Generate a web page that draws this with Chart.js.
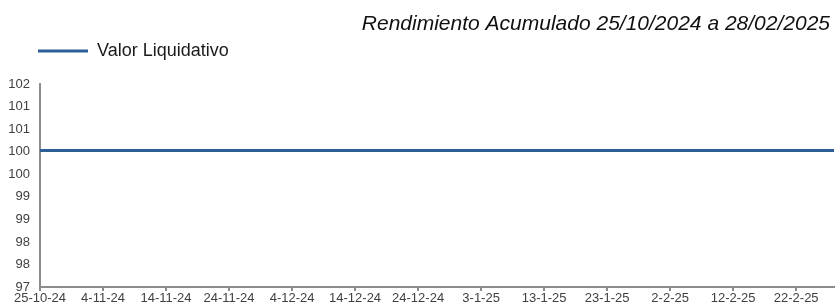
<!DOCTYPE html>
<html lang="es">
<head>
<meta charset="utf-8">
<title>Rendimiento Acumulado</title>
<script src="https://cdn.jsdelivr.net/npm/chart.js@4.4.1/dist/chart.umd.min.js"></script>
<style>
    html, body { margin: 0; padding: 0; background: #fff; }
    .chart-box { position: relative; width: 835px; height: 307px; }
</style>
</head>
<body>
<div class="chart-box"><canvas id="navChart"></canvas></div>
<script>
// Periodo: 25/10/2024 - 28/02/2025 (una categoría por día)
const startDate = Date.UTC(2024, 9, 25);
const endDate = Date.UTC(2025, 1, 28);

const categories = [];
for (let t = startDate; t <= endDate; t += 86400000) {
    const d = new Date(t);
    categories.push(d.getUTCDate() + "-" + (d.getUTCMonth() + 1) + "-" + String(d.getUTCFullYear()).slice(2));
}

// Valor liquidativo (plano durante todo el periodo)
const valorLiquidativo = [
    100.36, 100.36, 100.36, 100.36, 100.36, 100.36, 100.36, 100.36, 100.36, 100.36,
    100.36, 100.36, 100.36, 100.36, 100.36, 100.36, 100.36, 100.36, 100.36, 100.36,
    100.36, 100.36, 100.36, 100.36, 100.36, 100.36, 100.36, 100.36, 100.36, 100.36,
    100.36, 100.36, 100.36, 100.36, 100.36, 100.36, 100.36, 100.36, 100.36, 100.36,
    100.36, 100.36, 100.36, 100.36, 100.36, 100.36, 100.36, 100.36, 100.36, 100.36,
    100.36, 100.36, 100.36, 100.36, 100.36, 100.36, 100.36, 100.36, 100.36, 100.36,
    100.36, 100.36, 100.36, 100.36, 100.36, 100.36, 100.36, 100.36, 100.36, 100.36,
    100.36, 100.36, 100.36, 100.36, 100.36, 100.36, 100.36, 100.36, 100.36, 100.36,
    100.36, 100.36, 100.36, 100.36, 100.36, 100.36, 100.36, 100.36, 100.36, 100.36,
    100.36, 100.36, 100.36, 100.36, 100.36, 100.36, 100.36, 100.36, 100.36, 100.36,
    100.36, 100.36, 100.36, 100.36, 100.36, 100.36, 100.36, 100.36, 100.36, 100.36,
    100.36, 100.36, 100.36, 100.36, 100.36, 100.36, 100.36, 100.36, 100.36, 100.36,
    100.36, 100.36, 100.36, 100.36, 100.36, 100.36, 100.36
];

// Eje Y: 10 marcas entre 97 y 102, etiquetas redondeadas
const yTickValues = [97, 97.56, 98.11, 98.67, 99.22, 99.78, 100.33, 100.89, 101.44, 102];
const yTickLabels = ["97", "98", "98", "99", "99", "100", "100", "101", "101", "102"];
const xTickEvery = 10;

const FONT = "'Liberation Sans', Arial, sans-serif";
const AXIS_GREY = "#8c8c8c";

// extra room under the legend, legend moved over the plot's left edge
const legendTweaks = {
    id: "legendTweaks",
    beforeInit(chart) {
        const origFit = chart.legend.fit;
        chart.legend.fit = function() {
            origFit.bind(chart.legend)();
            this.height += 14;
        };
    },
    afterLayout(chart) {
        chart.legend.left += 31;
        chart.titleBlock.right -= 4;
    }
};

const ctx = document.getElementById("navChart").getContext("2d");
new Chart(ctx, {
    type: "line",
    data: {
        labels: categories,
        datasets: [{
            label: "Valor Liquidativo",
            data: valorLiquidativo,
            borderColor: "#2d5e97",
            backgroundColor: "#2d5e97",
            borderWidth: 3,
            pointRadius: 0,
            tension: 0,
            fill: false
        }]
    },
    options: {
        responsive: true,
        maintainAspectRatio: false,
        animation: false,
        layout: { padding: { left: 0, right: 1, top: 0, bottom: 0 } },
        plugins: {
            tooltip: { enabled: false },
            title: {
                display: true,
                text: "Rendimiento Acumulado 25/10/2024 a 28/02/2025",
                align: "end",
                color: "#111",
                font: { family: FONT, size: 21, style: "italic", weight: "normal", lineHeight: 1 },
                padding: { top: 14, bottom: 0 }
            },
            legend: {
                display: true,
                align: "start",
                labels: {
                    usePointStyle: true,
                    pointStyle: "line",
                    pointStyleWidth: 50,
                    padding: 7,
                    color: "#1a1a1a",
                    font: { family: FONT, size: 18 }
                }
            }
        },
        scales: {
            x: {
                type: "category",
                offset: false,
                grid: { display: true, drawOnChartArea: false, drawTicks: true, tickLength: 4, color: AXIS_GREY, lineWidth: 2 },
                border: { display: true, color: AXIS_GREY, width: 2 },
                ticks: {
                    autoSkip: false,
                    maxRotation: 0,
                    minRotation: 0,
                    padding: 0,
                    color: "#404040",
                    font: { family: FONT, size: 13 }
                },
                afterBuildTicks: scale => {
                    scale.ticks = scale.ticks.filter(t => t.value % xTickEvery === 0);
                },
                afterFit: scale => { scale.height = 20; }
            },
            y: {
                min: 97,
                max: 102,
                grid: { display: false, drawTicks: false },
                border: { display: true, color: AXIS_GREY, width: 2 },
                ticks: {
                    autoSkip: false,
                    padding: 10,
                    color: "#404040",
                    font: { family: FONT, size: 13 },
                    callback: (value, i) => yTickLabels[i]
                },
                afterBuildTicks: scale => {
                    scale.ticks = yTickValues.map(v => ({ value: v }));
                },
                afterFit: scale => { scale.width = 40; }
            }
        }
    },
    plugins: [legendTweaks]
});
</script>
</body>
</html>
